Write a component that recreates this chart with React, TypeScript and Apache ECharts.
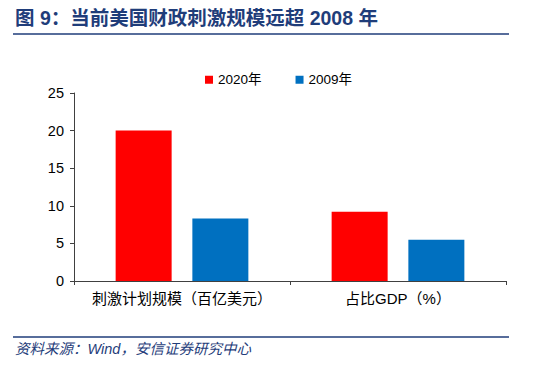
import React, { useEffect, useRef } from "react";
import * as echarts from "echarts";

const categories = ["刺激计划规模（百亿美元）", "占比GDP（%）"];
const series2020 = [20, 9.2];
const series2009 = [8.3, 5.5];
const seriesNames = ["2020年", "2009年"];
const yTicks = { min: 0, max: 25, interval: 5 };

const titleText = "图 9：当前美国财政刺激规模远超 2008 年";
const sourceText = "资料来源：Wind，安信证券研究中心";

export default function App() {
  const ref = useRef<HTMLDivElement>(null);
  useEffect(() => {
    if (!ref.current) return;
    const chart = echarts.init(ref.current, null, { renderer: "svg" });
    const dark = "#1F3D7A";
    const ff = "'Liberation Sans', 'Noto Sans CJK SC', sans-serif";
    chart.setOption({
      animation: false,
      backgroundColor: "#ffffff",
      textStyle: { fontFamily: ff },
      grid: { left: 74, right: 39, top: 93, bottom: 87 },
      legend: {
        data: seriesNames,
        left: 200,
        top: 68,
        icon: "rect",
        itemWidth: 8,
        itemHeight: 8,
        itemGap: 34,
        textStyle: { fontSize: 13.5, color: "#000", fontFamily: ff },
      },
      xAxis: {
        type: "category",
        data: categories,
        axisLine: { lineStyle: { color: "#404040", width: 1 } },
        axisTick: { show: true, alignWithLabel: false, length: 4, lineStyle: { color: "#404040" } },
        axisLabel: { fontSize: 15, color: "#000", margin: 10, interval: 0, fontFamily: ff },
      },
      yAxis: {
        type: "value",
        min: yTicks.min,
        max: yTicks.max,
        interval: yTicks.interval,
        axisLine: { show: true, lineStyle: { color: "#404040", width: 1 } },
        axisTick: { show: true, length: 4, lineStyle: { color: "#404040" } },
        splitLine: { show: false },
        axisLabel: { fontSize: 14.5, color: "#000", margin: 10, fontFamily: "'Liberation Sans', sans-serif" },
      },
      series: [
        {
          name: seriesNames[0],
          type: "bar",
          data: series2020,
          barWidth: 56,
          barGap: "37%",
          itemStyle: { color: "#FF0000" },
        },
        {
          name: seriesNames[1],
          type: "bar",
          data: series2009,
          barWidth: 56,
          itemStyle: { color: "#0070C0" },
        },
      ],
      graphic: [
        {
          type: "text",
          left: 15,
          top: 8,
          style: {
            text: titleText,
            fontSize: 19.5,
            fontWeight: "bold",
            fill: dark,
            fontFamily: ff,
          },
        },
        {
          type: "line",
          shape: { x1: 13, y1: 34, x2: 509, y2: 34 },
          style: { stroke: dark, lineWidth: 1.5 },
        },
        {
          type: "line",
          shape: { x1: 13, y1: 337, x2: 509, y2: 337 },
          style: { stroke: dark, lineWidth: 1.5 },
        },
        {
          type: "text",
          left: 15,
          top: 342,
          style: {
            text: sourceText,
            fontSize: 14.5,
            fontStyle: "italic",
            fill: dark,
            fontFamily: ff,
          },
        },
      ],
    });
    return () => chart.dispose();
  }, []);
  return <div ref={ref} style={{ width: 545, height: 368, position: "absolute", left: 0, top: 0 }} />;
}
